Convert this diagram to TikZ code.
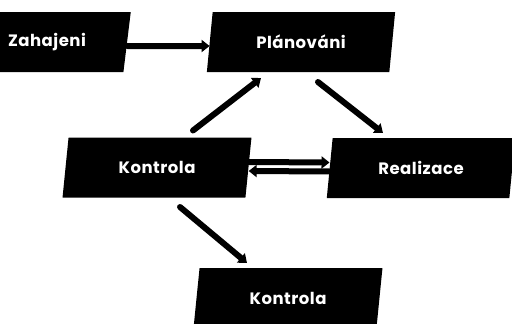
\documentclass[tikz,border=0pt]{standalone}
\usepackage{fontspec}
\setmainfont{Poppins}[LetterSpace=3]
\usetikzlibrary{shapes.geometric,arrows.meta}

\tikzset{
  etapa/.style={trapezium, trapezium left angle=78, trapezium right angle=102,
    trapezium stretches=true, fill=black, text=white, inner sep=0pt,
    font=\bfseries\fontsize{16.5}{16.5}\selectfont,
    minimum width=190pt, minimum height=60pt},
  sipka/.style={line width=6pt, line cap=round, -{Triangle[length=8pt,width=12pt]}}
}

\begin{document}
\begin{tikzpicture}[x=1pt,y=-1pt]
  \useasboundingbox[fill=white] (0,0) rectangle (512,324);

  % ETAPY
  \node[etapa, minimum width=168pt] (zahajeni) at (47,42) {Zahajeni};
  \node[etapa] (planovani) at (301,42) {Plánováni};
  \node[etapa] (kontrola) at (157,167.5) {Kontrola};
  \node[etapa] (realizace) at (421,168) {Realizace};
  \node[etapa] (kontrola2) at (288,298) {Kontrola};

  % SIPKY
  \draw[sipka] ([yshift=-4pt]zahajeni.east) -- ([yshift=-4pt]planovani.west);
  \draw[sipka] ([shift={(36,-37)}]kontrola.center) -- ([shift={(-40,36)}]planovani.center);
  \draw[sipka] ([shift={(17,40)}]planovani.center) -- ([shift={(-38,-35)}]realizace.center);
  \draw[sipka] ([shift={(23,39.5)}]kontrola.center) -- ([shift={(-41,-35)}]kontrola2.center);

  % DVOJITA SIPKA
  \draw[sipka] ([yshift=5.5pt]kontrola.east) -- ([yshift=5.5pt]realizace.west);
  \draw[sipka] ([yshift=-3.5pt]realizace.west) -- ([yshift=-3.5pt]kontrola.east);
\end{tikzpicture}
\end{document}
